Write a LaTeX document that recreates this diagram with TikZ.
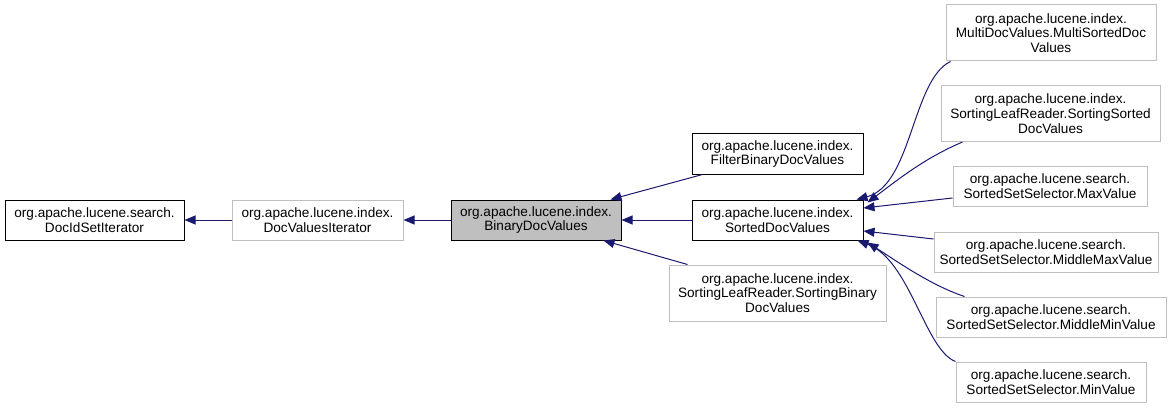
\documentclass[tikz,border=0pt]{standalone}
\usepackage{fontspec}
\setmainfont{Liberation Sans}
\usetikzlibrary{arrows.meta}
\definecolor{edgec}{HTML}{191970}
\definecolor{grayb}{HTML}{BFBFBF}
\definecolor{hilite}{HTML}{BFBFBF}
\begin{document}
\begin{tikzpicture}[x=1pt,y=-1pt,
  box/.style={draw=black, line width=1pt, rectangle, inner sep=0pt, align=center,
    font=\fontsize{13.6}{14.8}\selectfont, fill=white, minimum height=40pt},
  gbox/.style={box, draw=grayb},
  tall/.style={minimum height=56pt},
  edge/.style={draw=edgec, line width=1pt, -{Triangle[length=11pt,width=9pt]}}]
\useasboundingbox (0,0) rectangle (1172,409);

\node[box, minimum width=179pt] (n1) at (94.5,220) {org.apache.lucene.search.\\DocIdSetIterator};
\node[gbox, minimum width=171pt] (n2) at (317.5,220) {org.apache.lucene.index.\\DocValuesIterator};
\node[box, fill=hilite, minimum width=170pt] (n3) at (536,220) {org.apache.lucene.index.\\BinaryDocValues};
\node[box, minimum width=171pt] (n4) at (777.5,154) {org.apache.lucene.index.\\FilterBinaryDocValues};
\node[box, minimum width=171pt] (n5) at (777.5,220) {org.apache.lucene.index.\\SortedDocValues};
\node[gbox, tall, minimum width=217pt] (n6) at (777.5,293) {org.apache.lucene.index.\\SortingLeafReader.SortingBinary\\DocValues};
\node[gbox, tall, minimum width=210pt] (n7) at (1051,33) {org.apache.lucene.index.\\MultiDocValues.MultiSortedDoc\\Values};
\node[gbox, tall, minimum width=219pt] (n8) at (1050.5,113.5) {org.apache.lucene.index.\\SortingLeafReader.SortingSorted\\DocValues};
\node[gbox, minimum width=194pt] (n9) at (1050,186.5) {org.apache.lucene.search.\\SortedSetSelector.MaxValue};
\node[gbox, minimum width=224pt] (n10) at (1046,252) {org.apache.lucene.search.\\SortedSetSelector.MiddleMaxValue};
\node[gbox, minimum width=230pt] (n11) at (1051,317) {org.apache.lucene.search.\\SortedSetSelector.MiddleMinValue};
\node[gbox, minimum width=190pt] (n12) at (1051,382) {org.apache.lucene.search.\\SortedSetSelector.MinValue};

\draw[edge] (n2) -- (n1);
\draw[edge] (n3) -- (n2);
\draw[edge] ([shift={(11,0)}]n4.south west) -- ([shift={(-11,0)}]n3.north east);
\draw[edge] (n5) -- (n3);
\draw[edge] ([shift={(19,0)}]n6.north west) -- ([shift={(-18,0)}]n3.south east);

\draw[edge] ([shift={(5,0)}]n7.south west) .. controls (912,80) and (912,185) .. ([shift={(-7,0)}]n5.north east);
\draw[edge] ([shift={(22,0)}]n8.south west) .. controls (925,158) and (900,178) .. ([shift={(4,3)}]n5.north east);
\draw[edge] ([shift={(0,11.5)}]n9.west) -- ([shift={(0,-12)}]n5.east);
\draw[edge] ([shift={(0,-13)}]n10.west) -- ([shift={(0,11)}]n5.east);
\draw[edge] ([shift={(29,0)}]n11.north west) .. controls (930,285) and (895,260) .. ([shift={(4,2)}]n5.south east);
\draw[edge] (n12.north west) .. controls (925,350) and (910,260) .. ([shift={(-6,0)}]n5.south east);
\end{tikzpicture}
\end{document}
